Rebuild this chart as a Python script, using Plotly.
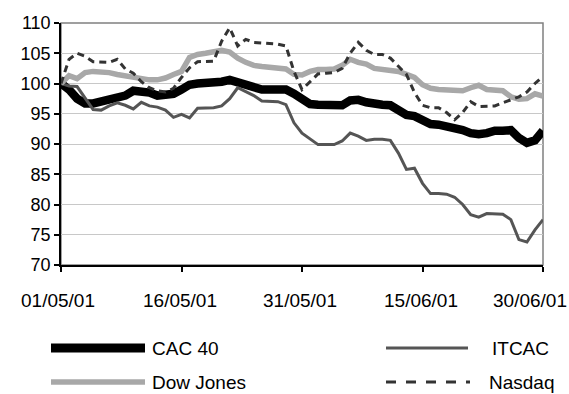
import pandas as pd
import plotly.graph_objects as go

# Daily index levels (base 100 on 01/05/2001)
dates = pd.date_range("2001-05-01", "2001-06-30", freq="D")

cac40 = [100.0, 99.0, 97.5, 96.7, 96.7, 97.0, 97.3, 97.5, 98.0, 98.8,
         98.7, 98.5, 98.0, 98.0, 98.3, 99.0, 99.8, 100.0, 100.0, 100.0,
         100.3, 100.6, 100.2, 100.0, 99.3, 99.0, 99.0, 99.0, 99.0, 98.3,
         97.3, 96.6, 96.5, 96.4, 96.4, 96.4, 97.2, 97.3, 96.9, 96.6,
         96.5, 96.4, 95.7, 94.8, 94.6, 93.8, 93.3, 93.2, 93.0, 92.6,
         92.3, 91.8, 91.6, 91.8, 92.2, 92.2, 92.3, 91.0, 90.2, 90.6,
         92.2]

itcac = [100.0, 99.6, 99.5, 97.5, 95.7, 95.6, 96.3, 96.8, 96.4, 95.8,
         96.9, 96.3, 96.1, 95.6, 94.4, 94.9, 94.3, 95.9, 96.0, 96.0,
         96.3, 97.5, 99.3, 98.6, 98.0, 97.1, 97.0, 97.0, 96.5, 93.5,
         91.8, 90.8, 89.9, 89.9, 89.9, 90.5, 91.8, 91.3, 90.6, 90.8,
         90.8, 90.6, 88.5, 85.8, 86.0, 83.5, 81.8, 81.8, 81.7, 81.2,
         80.0, 78.3, 77.9, 78.5, 78.5, 78.4, 77.5, 74.2, 73.8, 75.8,
         77.5]

dow_jones = [100.0, 101.3, 100.8, 101.8, 102.0, 102.0, 101.8, 101.5, 101.3, 101.0,
             100.7, 100.6, 100.6, 100.9, 101.5, 102.0, 104.3, 104.8, 105.0, 105.2,
             105.5, 105.2, 104.2, 103.5, 103.0, 102.8, 102.7, 102.6, 102.4, 101.5,
             101.4, 102.0, 102.3, 102.3, 102.4, 103.0, 104.0, 103.5, 103.2, 102.5,
             102.3, 102.2, 102.0, 101.5, 101.0, 99.8, 99.2, 99.0, 99.0, 99.0,
             98.8, 99.3, 99.7, 99.0, 99.0, 98.8, 97.8, 97.4, 97.5, 98.3,
             97.9]

nasdaq = [100.0, 104.0, 105.0, 104.5, 103.6, 103.6, 103.5, 104.0, 102.4, 101.7,
          100.3, 99.3, 98.8, 98.6, 99.2, 101.0, 102.6, 103.6, 103.6, 103.7,
          107.0, 109.2, 106.2, 107.3, 106.8, 106.7, 106.6, 106.5, 106.2, 102.0,
          99.0, 100.3, 101.6, 101.7, 101.8, 102.5, 105.0, 106.8, 105.5, 104.8,
          104.8, 104.2, 102.8, 101.5, 98.5, 96.4, 96.0, 96.0, 95.2, 94.0,
          95.2, 97.0, 96.2, 96.2, 96.3, 96.8, 97.3, 97.8, 98.6, 100.0,
          101.2]

tick_dates = ["2001-05-01", "2001-05-16", "2001-05-31", "2001-06-15", "2001-06-30"]
tick_labels = ["01/05/01", "16/05/01", "31/05/01", "15/06/01", "30/06/01"]
y_ticks = [70, 75, 80, 85, 90, 95, 100, 105, 110]

FONT = "Arial, Liberation Sans, sans-serif"
FS_Y = 18
FS = 19

styles = {
    "CAC 40": dict(color="#000000", width=8.5, dash="solid"),
    "ITCAC": dict(color="#555555", width=3, dash="solid"),
    "Dow Jones": dict(color="#a8a8a8", width=5.5, dash="solid"),
    "Nasdaq": dict(color="#333333", width=3, dash="7px,5px"),
}
series = [("CAC 40", cac40), ("ITCAC", itcac), ("Dow Jones", dow_jones), ("Nasdaq", nasdaq)]

fig = go.Figure()
for name, vals in series:
    st = styles[name]
    fig.add_trace(go.Scatter(
        x=dates, y=vals, name=name, mode="lines",
        line=dict(color=st["color"], width=st["width"], dash=st["dash"]),
        hoverinfo="skip",
    ))

W, H = 569, 394
L, R, T, B = 61, 26, 23, 129
pw, ph = W - L - R, H - T - B

def px(x):
    return (x - L) / pw

def py(y):
    return (H - B - y) / ph

shapes = [
    # plot frame (top and right edges)
    dict(type="rect", xref="paper", yref="paper", x0=0, x1=1, y0=0, y1=1,
         line=dict(color="#808080", width=1.5), layer="between"),
]
annotations = []

# date labels under the axis
for i, (d, t) in enumerate(zip(tick_dates, tick_labels)):
    shift = -3 if i == 0 else (-13 if i == len(tick_dates) - 1 else -2)
    annotations.append(dict(
        x=d, xref="x", y=0, yref="paper", yshift=-35, xshift=shift,
        text=t, showarrow=False, xanchor="center", yanchor="middle",
        font=dict(family=FONT, size=FS, color="#000"),
    ))

# legend block
legend_items = [
    ("CAC 40", 51, 145, 150, 348),
    ("ITCAC", 386, 468, 490, 348),
    ("Dow Jones", 51, 145, 150, 382),
    ("Nasdaq", 386, 470, 487, 382),
]
for name, x0, x1, xt, yc in legend_items:
    st = styles[name]
    shapes.append(dict(
        type="line", xref="paper", yref="paper",
        x0=px(x0), x1=px(x1), y0=py(yc), y1=py(yc),
        line=dict(color=st["color"], width=st["width"] + (0.5 if name == "CAC 40" else 0),
                  dash="10px,10px" if name == "Nasdaq" else "solid"),
    ))
    annotations.append(dict(
        x=px(xt), xref="paper", y=py(yc), yref="paper",
        text=name, showarrow=False, xanchor="left", yanchor="middle",
        font=dict(family=FONT, size=FS, color="#000"),
    ))

fig.update_layout(
    width=W, height=H,
    margin=dict(l=L, r=R, t=T, b=B, pad=0),
    paper_bgcolor="white", plot_bgcolor="white",
    showlegend=False,
    font=dict(family=FONT, size=FS, color="#000"),
    shapes=shapes,
    annotations=annotations,
)
fig.update_xaxes(
    type="date", range=[tick_dates[0], tick_dates[-1]],
    tickvals=tick_dates, showticklabels=False,
    ticks="outside", ticklen=5, tickwidth=1.5, tickcolor="#000",
    showline=True, linecolor="#000", linewidth=1.5,
    showgrid=False, zeroline=False,
)
fig.update_yaxes(
    range=[70, 110], tickvals=y_ticks,
    ticks="outside", ticklen=5, tickwidth=1.5, tickcolor="#000",
    showline=True, linecolor="#000", linewidth=1.5,
    showgrid=True, gridcolor="#c8c8c8", gridwidth=1,
    zeroline=False,
    tickfont=dict(family=FONT, size=FS_Y, color="#000"),
)

fig.write_html("out.html")
